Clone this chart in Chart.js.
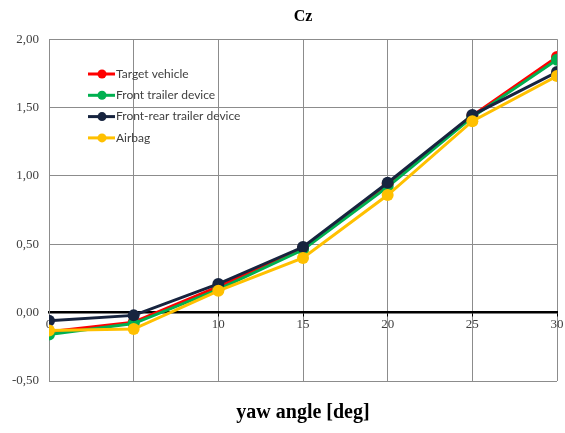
<!DOCTYPE html>
<html>
<head>
<meta charset="utf-8">
<script src="https://cdn.jsdelivr.net/npm/chart.js@4/dist/chart.umd.min.js"></script>
<style>
    html, body { margin: 0; padding: 0; background: #fff; }
    #wrap { width: 565px; height: 433px; }
</style>
</head>
<body>
<div id="wrap"><canvas id="czChart" width="565" height="433"></canvas></div>
<script>
// yaw angles [deg]
const yawAngles = [0, 5, 10, 15, 20, 25, 30];

// Cz per configuration
const targetVehicle = [-0.14, -0.07, 0.19, 0.47, 0.94, 1.44, 1.87];
const frontTrailer = [-0.16, -0.08, 0.17, 0.46, 0.92, 1.43, 1.85];
const frontRearTrailer = [-0.06, -0.02, 0.21, 0.48, 0.95, 1.445, 1.76];
const airbag = [-0.13, -0.12, 0.16, 0.40, 0.86, 1.40, 1.73];

const seriesNames = ['Target vehicle', 'Front trailer device', 'Front-rear trailer device', 'Airbag'];
const seriesColors = ['#ff0000', '#00b050', '#17243f', '#ffc000'];
const seriesValues = [targetVehicle, frontTrailer, frontRearTrailer, airbag];

const yTicks = [-0.5, 0, 0.5, 1.0, 1.5, 2.0];

function toPoints(values) {
    return yawAngles.map((x, i) => ({ x: x, y: values[i] }));
}

const datasets = seriesValues.map((values, i) => ({
    label: seriesNames[i],
    data: toPoints(values),
    borderColor: seriesColors[i],
    backgroundColor: seriesColors[i],
    borderWidth: 3,
    pointRadius: 6,
    pointHoverRadius: 6,
    pointBorderWidth: 0,
    tension: 0,
    // later series sit on top
    order: seriesValues.length - 1 - i
}));

// legend drawn inside the plot area, top-left
const insideLegend = {
    id: 'insideLegend',
    afterDatasetsDraw(chart) {
        const ctx = chart.ctx;
        const x0 = 88;
        const y0 = 74;
        const rowGap = 21.3;
        ctx.save();
        ctx.font = '12px Lato, "Liberation Sans", sans-serif';
        ctx.textBaseline = 'middle';
        ctx.textAlign = 'left';
        chart.data.datasets.forEach((ds, i) => {
            const y = y0 + i * rowGap;
            ctx.strokeStyle = ds.borderColor;
            ctx.lineWidth = 3;
            ctx.beginPath();
            ctx.moveTo(x0, y);
            ctx.lineTo(x0 + 27, y);
            ctx.stroke();
            ctx.fillStyle = ds.borderColor;
            ctx.beginPath();
            ctx.arc(x0 + 14, y, 4.5, 0, Math.PI * 2);
            ctx.fill();
            ctx.fillStyle = '#404040';
            ctx.fillText(ds.label, x0 + 28, y);
        });
        ctx.restore();
    }
};

const ctx = document.getElementById('czChart').getContext('2d');

new Chart(ctx, {
    type: 'line',
    data: { datasets: datasets },
    options: {
        responsive: false,
        animation: false,
        layout: { padding: { left: 0, right: 8, top: 0, bottom: 0 } },
        plugins: {
            legend: { display: false },
            tooltip: { enabled: false },
            title: {
                display: true,
                fullSize: false,
                text: 'Cz',
                color: '#000',
                font: { family: '"Liberation Serif", serif', size: 16, weight: 'bold' },
                padding: { top: 7, bottom: 13 }
            },
            subtitle: {
                display: true,
                fullSize: false,
                position: 'bottom',
                text: 'yaw angle [deg]',
                color: '#000',
                font: { family: '"Liberation Serif", serif', size: 20, weight: 'bold' },
                padding: { top: 20, bottom: 8 }
            }
        },
        scales: {
            x: {
                type: 'linear',
                position: { y: 0 },
                min: 0,
                max: 30,
                afterBuildTicks(scale) {
                    scale.ticks = yawAngles.map(v => ({ value: v }));
                },
                ticks: {
                    color: '#404040',
                    font: { family: '"Liberation Serif", serif', size: 13 },
                    padding: 1,
                    maxRotation: 0
                },
                grid: {
                    color: '#8c8c8c',
                    lineWidth: 1,
                    drawTicks: true,
                    tickLength: 3,
                    tickColor: '#000'
                },
                border: { color: '#000', width: 2.5 }
            },
            y: {
                min: -0.5,
                max: 2.0,
                afterBuildTicks(scale) {
                    scale.ticks = yTicks.map(v => ({ value: v }));
                },
                afterFit(scale) {
                    scale.width = 49;
                },
                ticks: {
                    color: '#404040',
                    font: { family: '"Liberation Serif", serif', size: 13 },
                    padding: 10,
                    callback: v => v.toFixed(2).replace('.', ',')
                },
                grid: {
                    color: '#8c8c8c',
                    lineWidth: 1,
                    drawTicks: false
                },
                border: { color: '#8c8c8c', width: 1 }
            }
        }
    },
    plugins: [insideLegend]
});
</script>
</body>
</html>
